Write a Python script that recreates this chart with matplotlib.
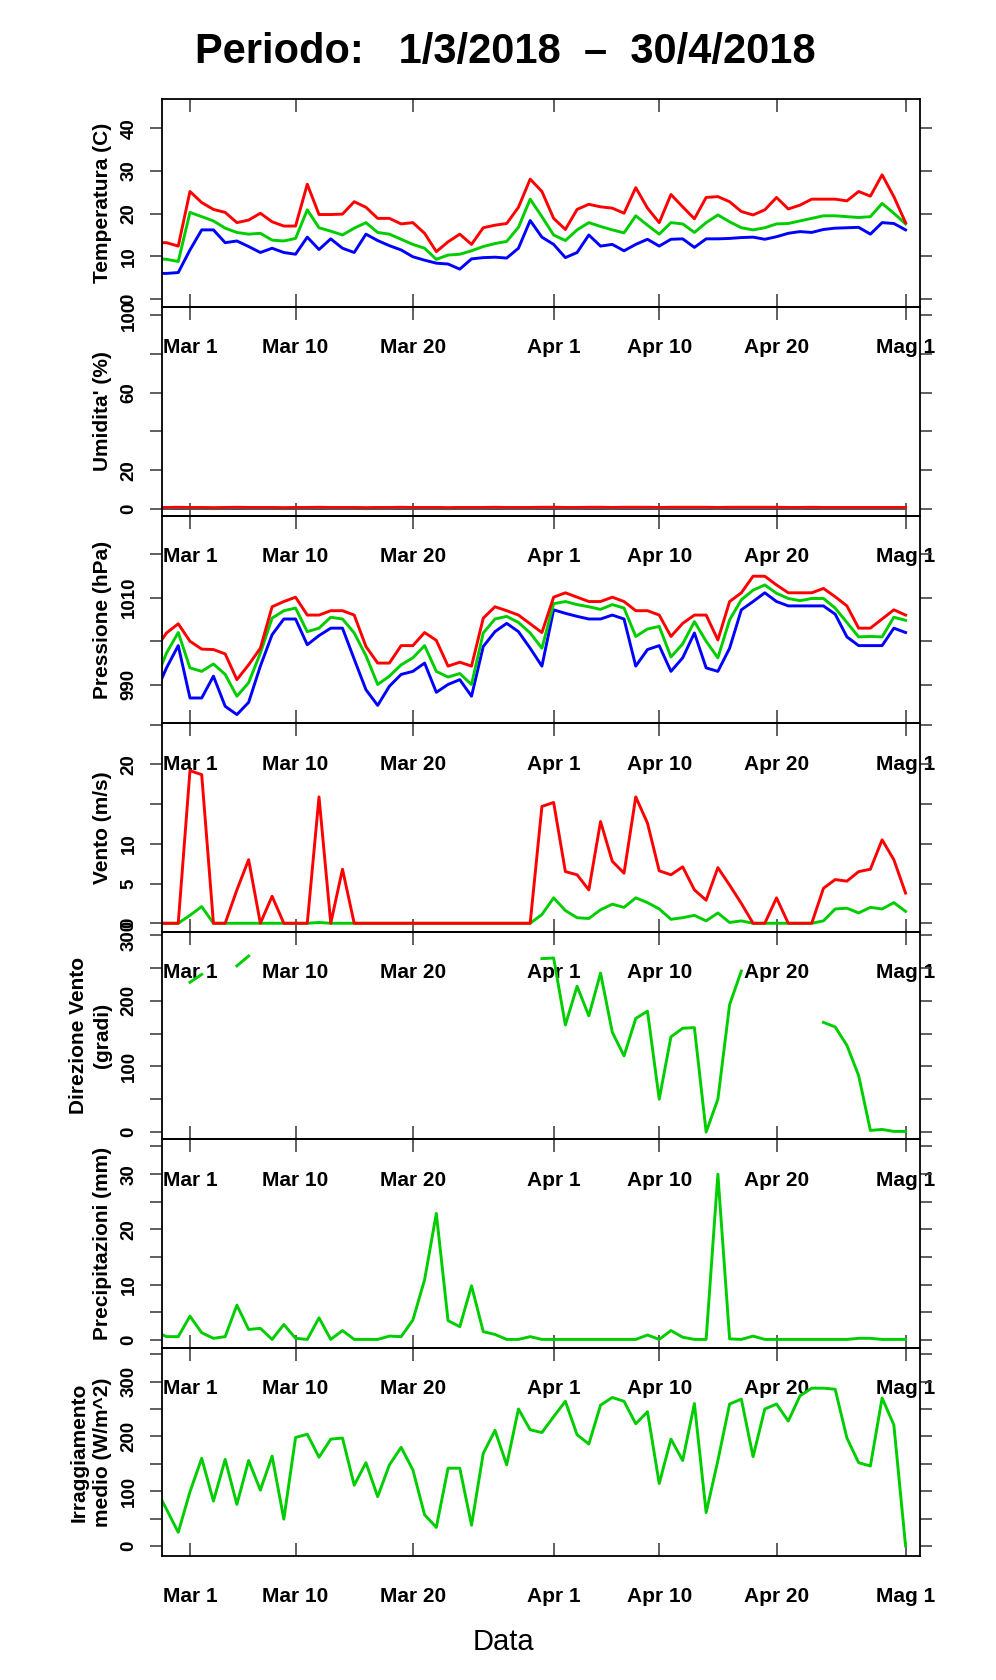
import numpy as np
import pandas as pd
import matplotlib
matplotlib.use("Agg")
from matplotlib import pyplot as plt
import matplotlib.dates as mdates

plt.rcParams['font.family'] = ['Liberation Sans', 'DejaVu Sans']

# daily values, 26 Feb 2018 .. 1 May 2018
dates = pd.date_range("2018-02-26", "2018-05-01", freq="D")

temp_max = [13.2, 13.2, 12.4, 25.2, 22.6, 21.0, 20.3, 17.9, 18.5, 20.1, 18.1, 17.1, 17.1,
            26.9, 19.8, 19.8, 19.9, 22.8, 21.5, 18.9, 18.9, 17.6, 17.9, 15.4, 11.1, 13.4,
            15.2, 12.8, 16.7, 17.3, 17.7, 21.5, 28.1, 25.2, 18.9, 16.3, 21.0, 22.2, 21.6,
            21.3, 20.1, 26.1, 21.3, 17.9, 24.5, 21.6, 18.8, 23.8, 24.0, 22.8, 20.5, 19.7,
            20.9, 23.8, 21.1, 22.0, 23.4, 23.4, 23.4, 23.0, 25.2, 24.1, 29.1, 24.0, 17.9]
temp_med = [9.5, 9.3, 8.8, 20.3, 19.3, 18.3, 16.6, 15.6, 15.2, 15.4, 13.8, 13.6, 14.2,
            20.9, 16.7, 15.9, 15.0, 16.6, 17.9, 15.6, 15.2, 14.0, 12.8, 11.9, 9.3, 10.3,
            10.5, 11.3, 12.3, 13.0, 13.5, 16.8, 23.4, 19.3, 15.0, 13.7, 16.2, 17.9, 17.0,
            16.2, 15.5, 19.5, 17.3, 15.2, 17.9, 17.6, 15.6, 17.9, 19.7, 18.1, 16.7, 16.2,
            16.7, 17.6, 17.7, 18.3, 18.9, 19.5, 19.5, 19.3, 19.1, 19.3, 22.4, 20.1, 17.6]
temp_min = [6.0, 6.0, 6.2, 11.5, 16.2, 16.2, 13.2, 13.6, 12.3, 10.9, 11.9, 10.9, 10.5,
            14.5, 11.6, 14.1, 11.9, 10.9, 15.2, 13.7, 12.5, 11.5, 9.9, 9.1, 8.4, 8.2,
            7.0, 9.4, 9.7, 9.8, 9.6, 11.9, 18.4, 14.5, 12.8, 9.7, 10.9, 15.0, 12.4,
            12.8, 11.3, 12.8, 14.0, 12.4, 14.0, 14.1, 12.1, 14.1, 14.1, 14.2, 14.4, 14.5,
            14.0, 14.6, 15.4, 15.8, 15.6, 16.3, 16.6, 16.7, 16.8, 15.2, 17.9, 17.7, 16.2]

hum_max = [0.8, 0.8, 0.9, 0.8, 0.8, 0.7, 0.8, 0.9, 0.8, 0.8, 0.8, 0.7, 0.8,
           0.8, 0.9, 0.8, 0.8, 0.8, 0.7, 0.8, 0.8, 0.9, 0.8, 0.8, 0.8, 0.7,
           0.8, 0.8, 0.8, 0.9, 0.8, 0.8, 0.8, 0.9, 0.9, 0.8, 0.8, 0.9, 0.9,
           0.8, 0.9, 0.9, 0.9, 0.8, 0.9, 0.9, 0.9, 0.9, 0.8, 0.9, 0.9, 0.9,
           0.9, 0.9, 0.8, 0.8, 0.9, 0.8, 0.8, 0.8, 0.8, 0.8, 0.8, 0.8, 0.8]
hum_med = [0.5, 0.5, 0.6, 0.5, 0.5, 0.4, 0.5, 0.6, 0.5, 0.5, 0.5, 0.4, 0.5,
           0.5, 0.6, 0.5, 0.5, 0.5, 0.4, 0.5, 0.5, 0.6, 0.5, 0.5, 0.5, 0.4,
           0.5, 0.5, 0.5, 0.6, 0.5, 0.5, 0.5, 0.6, 0.6, 0.5, 0.5, 0.6, 0.6,
           0.5, 0.6, 0.6, 0.6, 0.5, 0.6, 0.6, 0.6, 0.6, 0.5, 0.6, 0.6, 0.6,
           0.6, 0.6, 0.5, 0.5, 0.6, 0.5, 0.5, 0.5, 0.5, 0.5, 0.5, 0.5, 0.5]
hum_min = [0.3, 0.3, 0.3, 0.3, 0.3, 0.2, 0.3, 0.3, 0.3, 0.3, 0.3, 0.2, 0.3,
           0.3, 0.3, 0.3, 0.3, 0.3, 0.2, 0.3, 0.3, 0.3, 0.3, 0.3, 0.3, 0.2,
           0.3, 0.3, 0.3, 0.3, 0.3, 0.3, 0.3, 0.3, 0.3, 0.3, 0.3, 0.3, 0.3,
           0.3, 0.3, 0.3, 0.3, 0.3, 0.3, 0.3, 0.3, 0.3, 0.3, 0.3, 0.3, 0.3,
           0.3, 0.3, 0.3, 0.3, 0.3, 0.3, 0.3, 0.3, 0.3, 0.3, 0.3, 0.3, 0.3]

pres_max = [998.0, 1001.9, 1004.0, 1000.0, 998.2, 998.1, 997.1, 991.2, 994.6, 998.4,
            1007.9, 1009.1, 1010.1, 1006.0, 1006.0, 1007.0, 1007.0, 1006.0, 998.8, 995.0,
            995.0, 999.0, 999.0, 1002.0, 1000.2, 994.3, 995.2, 994.3, 1005.3, 1007.9,
            1007.0, 1006.0, 1004.0, 1002.0, 1010.1, 1011.1, 1010.1, 1009.1, 1009.1, 1010.1,
            1009.1, 1007.0, 1007.0, 1006.0, 1001.1, 1004.1, 1006.0, 1006.0, 1000.3, 1009.1,
            1011.1, 1014.9, 1014.9, 1012.9, 1011.1, 1011.1, 1011.1, 1012.1, 1010.2, 1008.1,
            1003.0, 1003.0, 1005.1, 1007.2, 1006.0]
pres_med = [990.7, 997.3, 1002.0, 993.9, 993.1, 994.8, 992.4, 987.4, 990.5, 997.3,
            1005.3, 1007.0, 1007.6, 1002.2, 1003.0, 1005.5, 1005.1, 1001.9, 996.7, 990.1,
            992.0, 994.6, 996.2, 999.0, 993.1, 991.8, 992.6, 990.1, 1001.9, 1005.1,
            1005.7, 1004.3, 1001.9, 998.4, 1008.6, 1009.1, 1008.4, 1007.9, 1007.3, 1008.4,
            1007.6, 1001.1, 1002.8, 1003.4, 996.4, 999.4, 1004.5, 1000.0, 996.2, 1004.9,
            1009.5, 1011.7, 1012.9, 1011.0, 1009.8, 1009.3, 1009.8, 1009.8, 1007.6, 1004.3,
            1001.0, 1001.1, 1001.0, 1005.5, 1004.8]
pres_min = [987.8, 993.9, 999.0, 987.0, 987.0, 992.0, 985.1, 983.2, 986.0, 994.3,
            1001.5, 1005.1, 1005.1, 999.2, 1001.3, 1003.0, 1003.0, 995.9, 988.9, 985.3,
            989.7, 992.4, 993.1, 995.0, 988.3, 990.1, 991.2, 987.4, 998.8, 1002.2,
            1004.1, 1002.2, 998.4, 994.3, 1007.2, 1006.4, 1005.7, 1005.1, 1005.1, 1006.0,
            1005.1, 994.3, 998.1, 999.0, 993.1, 996.2, 1001.9, 993.9, 993.1, 998.4,
            1007.2, 1009.1, 1011.1, 1009.1, 1008.1, 1008.1, 1008.1, 1008.1, 1006.2, 1001.0,
            999.0, 999.0, 999.0, 1003.0, 1002.0]

wind_max = [0, 0, 0, 19.2, 18.7, 0, 0, 4.2, 8.0, 0, 3.4, 0, 0, 0, 15.9, 0, 6.8,
            0, 0, 0, 0, 0, 0, 0, 0, 0, 0, 0, 0, 0, 0, 0, 0,
            14.7, 15.2, 6.5, 6.1, 4.2, 12.8, 7.8, 6.3, 15.9, 12.6, 6.6, 6.1, 7.1, 4.2,
            2.9, 7.0, 4.8, 2.5, 0, 0, 3.2, 0, 0, 0, 4.4, 5.5, 5.3, 6.5, 6.8, 10.5, 8.0, 3.8]
wind_med = [0, 0, 0, 1.0, 2.1, 0, 0, 0, 0, 0, 0, 0, 0, 0, 0.1, 0, 0,
            0, 0, 0, 0, 0, 0, 0, 0, 0, 0, 0, 0, 0, 0, 0, 0,
            1.1, 3.2, 1.6, 0.7, 0.6, 1.7, 2.4, 2.0, 3.2, 2.6, 1.8, 0.5, 0.7, 1.0,
            0.3, 1.3, 0.1, 0.3, 0, 0, 0, 0, 0, 0, 0.3, 1.8, 1.9, 1.3, 2.0, 1.8, 2.6, 1.5]

nan = np.nan
wind_dir = [nan, nan, nan, 228, 240, nan, nan, 253, 268, nan, nan, nan, nan, nan, nan, nan, nan,
            nan, nan, nan, nan, nan, nan, nan, nan, nan, nan, nan, nan, nan, nan, nan, nan,
            264, 265, 163, 222, 177, 242, 152, 116, 173, 184, 50, 145, 158, 159,
            0, 50, 194, 245, nan, nan, nan, nan, nan, nan, 167, 160, 132, 86, 2.5, 4, 1, 1]

rain = [1.6, 0.6, 0.6, 4.3, 1.3, 0.3, 0.6, 6.3, 1.9, 2.1, 0.1, 2.8, 0.3, 0.1, 4.0, 0.1, 1.7,
        0.1, 0.1, 0.1, 0.7, 0.6, 3.6, 10.9, 22.9, 3.5, 2.4, 9.8, 1.5, 1.0, 0.1, 0.1, 0.6,
        0.1, 0.1, 0.1, 0.1, 0.1, 0.1, 0.1, 0.1, 0.1, 0.9, 0.1, 1.7, 0.5, 0.1,
        0.1, 30.0, 0.2, 0.1, 0.7, 0.1, 0.1, 0.1, 0.1, 0.1, 0.1, 0.1, 0.1, 0.3, 0.3, 0.1, 0.1, 0.1]

irr = [108, 67, 25, 99, 160, 82, 158, 76, 156, 102, 164, 49, 198, 204, 162, 195, 197,
       111, 152, 90, 148, 180, 139, 57, 34, 142, 142, 38, 169, 211, 148, 250, 212,
       207, 236, 264, 203, 186, 257, 271, 264, 223, 245, 114, 195, 156, 260,
       61, 156, 259, 268, 163, 250, 259, 228, 274, 288, 288, 286, 197, 152, 146, 270, 221, 0]

tick_dates = pd.to_datetime(["2018-03-01", "2018-03-10", "2018-03-20", "2018-04-01",
                             "2018-04-10", "2018-04-20", "2018-05-01"])
tick_labels = ["Mar 1", "Mar 10", "Mar 20", "Apr 1", "Apr 10", "Apr 20", "Mag 1"]

RED = "#ff0000"
GREEN = "#00cd00"
BLUE = "#0000ff"

panels = [
    dict(label="Temperatura (C)", ylim=(-1.8, 46.8),
         yticks=[0, 10, 20, 30, 40], ylabels=["0", "10", "20", "30", "40"],
         series=[(temp_min, BLUE), (temp_med, GREEN), (temp_max, RED)]),
    dict(label="Umidita' (%)", ylim=(-3.6, 104.3),
         yticks=[0, 20, 40, 60, 80, 100], ylabels=["0", "20", "", "60", "", "100"],
         series=[(hum_min, BLUE), (hum_med, GREEN), (hum_max, RED)]),
    dict(label="Pressione (hPa)", ylim=(981.2, 1028.7),
         yticks=[990, 1000, 1010, 1020], ylabels=["990", "", "1010", ""],
         series=[(pres_min, BLUE), (pres_med, GREEN), (pres_max, RED)]),
    dict(label="Vento (m/s)", ylim=(-1.06, 25.16),
         yticks=[0, 5, 10, 15, 20, 25], ylabels=["0", "5", "10", "", "20", ""],
         series=[(wind_med, GREEN), (wind_max, RED)]),
    dict(label="Direzione Vento\n(gradi)", ylim=(-11, 305),
         yticks=[0, 50, 100, 150, 200, 250, 300], ylabels=["0", "", "100", "", "200", "", "300"],
         series=[(wind_dir, GREEN)]),
    dict(label="Precipitazioni (mm)", ylim=(-1.4, 36.3),
         yticks=[0, 5, 10, 15, 20, 25, 30, 35], ylabels=["0", "", "10", "", "20", "", "30", ""],
         series=[(rain, GREEN)]),
    dict(label="Irraggiamento\nmedio (W/m^2)", ylim=(-18.2, 361.8),
         yticks=[0, 50, 100, 150, 200, 250, 300, 350],
         ylabels=["0", "", "100", "", "200", "", "300", ""],
         series=[(irr, GREEN)]),
]

W, H = 996, 1680
edges = [99.3, 306.7, 516.0, 723.3, 931.7, 1139.3, 1347.7, 1556.0]
left_px, right_px = 161.7, 920.0

x0 = mdates.date2num(pd.Timestamp("2018-03-01")) - 2.41
x1 = mdates.date2num(pd.Timestamp("2018-03-01")) + 62.23

fig = plt.figure(figsize=(W / 100, H / 100), dpi=100)
fig.patch.set_facecolor("white")

for i, p in enumerate(panels):
    top, bot = edges[i], edges[i + 1]
    ax = fig.add_axes([left_px / W, 1 - bot / H, (right_px - left_px) / W, (bot - top) / H])
    ax.set_facecolor("none")
    for values, col in p["series"]:
        ax.plot(dates, values, color=col, lw=2.1)
    ax.set_xlim(x0, x1)
    ax.set_ylim(*p["ylim"])

    ax.set_xticks(mdates.date2num(tick_dates))
    ax.set_xticklabels(tick_labels, fontsize=15, fontweight="bold")
    ax.tick_params(axis="x", direction="in", length=9.1, width=1.2, color="#444444",
                   top=True, bottom=True, pad=22.5)

    ax.set_yticks(p["yticks"], p["ylabels"], rotation=90, va="center",
                  fontsize=13.5, fontweight="bold")
    ax.tick_params(axis="y", direction="out", length=8.4, width=1.2, color="#444444",
                   left=True, right=True, labelleft=True, labelright=False, pad=8.9)

    ax.set_ylabel(p["label"], fontsize=15, fontweight="bold", linespacing=1.3)
    ax.yaxis.set_label_coords(-0.066, 0.5)

    for s in ax.spines.values():
        s.set_linewidth(1.3)
        s.set_color("black")

fig.text(505 / W, 1 - 63.3 / H, "Periodo:   1/3/2018  \u2013  30/4/2018",
         fontsize=30, fontweight="bold", ha="center", va="baseline")
fig.text(503 / W, 1 - 1650 / H, "Data", fontsize=21, ha="center", va="baseline")

fig.savefig("out.png", dpi=100, facecolor="white")
plt.close(fig)
